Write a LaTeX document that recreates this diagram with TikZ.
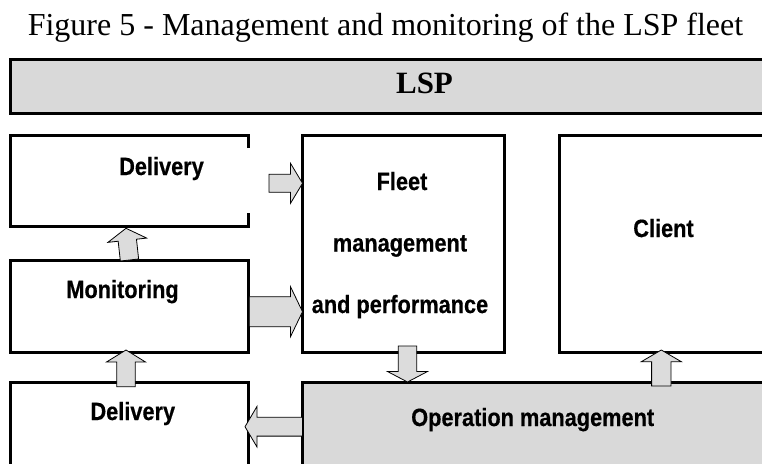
\documentclass[tikz,border=0pt]{standalone}
\usepackage{fontspec}
\setmainfont{Liberation Serif}
\newfontfamily\boxfont[FakeStretch=0.87,FakeBold=0.5]{Liberation Sans}
\usetikzlibrary{calc}
\definecolor{boxgray}{HTML}{D9D9D9}
\definecolor{arrgray}{HTML}{DCDCDC}
\tikzset{
  frame/.style={draw=black, line width=3pt, rectangle, inner sep=0pt, outer sep=0pt},
  grayframe/.style={frame, fill=boxgray},
  hollow/.style={rectangle, draw=none, inner sep=0pt, outer sep=0pt},
  edge3/.style={draw=black, line width=3pt},
  lbl/.style={anchor=base, inner sep=0pt, font=\boxfont\bfseries\fontsize{25}{30}\selectfont},
  ttl/.style={anchor=base, inner sep=0pt, font=\fontsize{32}{38}\selectfont},
  blk/.style={draw=black, line width=0.8pt, fill=arrgray, line join=miter},
}
% block arrow: from #1 to #2, shaft half width #3, head half width #4, head length #5
\newcommand\blkarrow[5]{%
  \coordinate (bkH) at ($(#2)!#5!(#1)$);
  \draw[blk] ($(#1)!#3!90:(#2)$) -- ($(bkH)!#3!-90:(#1)$) -- ($(bkH)!#4!-90:(#1)$)
    -- (#2) -- ($(bkH)!#4!90:(#1)$) -- ($(bkH)!#3!90:(#1)$) -- ($(#1)!#3!-90:(#2)$) -- cycle;}
\begin{document}
\begin{tikzpicture}[x=1pt,y=-1pt]
\path[use as bounding box] (0,0) rectangle (762,463);
\clip (0,0) rectangle (762,463);
% boxes
\node[grayframe, minimum width=779.5pt, minimum height=54pt] (lsp) at (400.25,86.5) {};
\node[hollow, minimum width=238pt, minimum height=91.5pt] (d1) at (129.5,180.75) {};
\draw[edge3] ($(d1.north east)+(0,13)$) |- (d1.north west) -- (d1.south west) -- (d1.south east) -- ++(0,-14);
\node[frame, minimum width=202pt, minimum height=217pt] (fl) at (403.5,243.5) {};
\node[frame, minimum width=230.5pt, minimum height=217pt] (cl) at (674.75,243.5) {};
\node[frame, minimum width=238pt, minimum height=92pt] (mo) at (129.5,306) {};
\node[frame, minimum width=238pt, minimum height=108pt] (d2) at (129.5,436) {};
\node[grayframe, minimum width=487.5pt, minimum height=108pt] (op) at (546.25,436) {};
% arrows
\coordinate (a1s) at (269,183.3);
\coordinate (a1e) at (fl.west |- a1s);
\blkarrow{a1s}{a1e}{9pt}{20pt}{12pt}
\coordinate (a2s) at (mo.north);
\coordinate (a2e) at (126,228.3);
\blkarrow{a2s}{a2e}{9.2pt}{19.5pt}{12pt}
\coordinate (a3s) at (249.3,311.7);
\coordinate (a3e) at (fl.west |- a3s);
\blkarrow{a3s}{a3e}{15pt}{25pt}{12pt}
\coordinate (a4s) at (126,386.7);
\coordinate (a4e) at (126,350);
\blkarrow{a4s}{a4e}{9.2pt}{19.5pt}{12pt}
\coordinate (a5s) at (op.west |- 0,426.7);
\coordinate (a5e) at (245,426.7);
\blkarrow{a5s}{a5e}{9.4pt}{20.3pt}{12pt}
\coordinate (a6s) at (407.5,346);
\coordinate (a6e) at (407.5,382);
\blkarrow{a6s}{a6e}{9.2pt}{20pt}{10.5pt}
\coordinate (a7s) at (661.3,386);
\coordinate (a7e) at (661.3,350);
\blkarrow{a7s}{a7e}{9.7pt}{20pt}{11.7pt}
% texts
\node[ttl] (title) at (385.5,35) {Figure 5 - Management and monitoring of the LSP fleet};
\node[ttl, font=\bfseries\fontsize{31}{36}\selectfont] (lsplbl) at (424.5,93.3) {LSP};
\node[lbl] (t1) at (161.5,175) {Delivery};
\node[lbl] (t2) at (402,190) {Fleet};
\node[lbl] (t3) at (400,251.5) {management};
\node[lbl] (t4) at (400,313) {and performance};
\node[lbl] (t5) at (663.5,237) {Client};
\node[lbl] (t6) at (122.5,298) {Monitoring};
\node[lbl] (t7) at (132.8,420) {Delivery};
\node[lbl] (t8) at (532.7,426) {Operation management};
\end{tikzpicture}
\end{document}
